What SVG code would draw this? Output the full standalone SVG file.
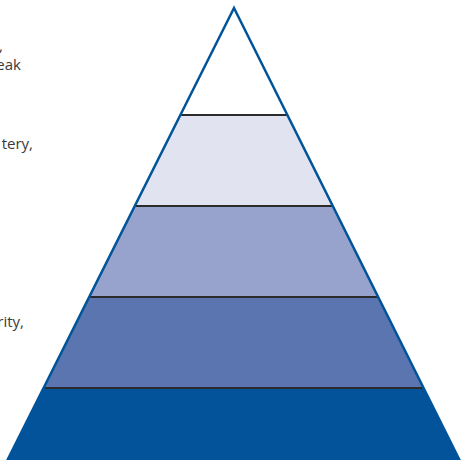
<svg xmlns="http://www.w3.org/2000/svg" width="461" height="460" viewBox="0 0 461 460">
  <style>
    .lbl { font-family: "Open Sans", "Noto Sans", sans-serif; font-size: 15px; fill: #3a3a3a; text-anchor: end; }
    .div { stroke: #2b2b2b; stroke-width: 2; }
    .outline { fill: none; stroke: #00549a; stroke-width: 2.5; stroke-linejoin: miter; }
  </style>
  <g id="labels">
    <text class="lbl" x="3" y="51">,</text>
    <text class="lbl" x="21" y="70">eak</text>
    <text class="lbl" x="33" y="149">tery,</text>
    <text class="lbl" x="24" y="327">rity,</text>
  </g>
  <g id="layer1"><polygon points="234,8 180.5,115 287.5,115" fill="#ffffff"/></g>
  <g id="layer2"><polygon points="180.5,115 287.5,115 333,206 135,206" fill="#e1e3f0"/></g>
  <g id="layer3"><polygon points="135,206 333,206 378.5,297 89.5,297" fill="#97a3cc"/></g>
  <g id="layer4"><polygon points="89.5,297 378.5,297 424,388 44,388" fill="#5a75b0"/></g>
  <g id="layer5"><polygon points="44,388 424,388 460,460 7,460" fill="#02539a"/></g>
  <g id="dividers">
    <line class="div" x1="181" y1="115" x2="287" y2="115"/>
    <line class="div" x1="136" y1="206" x2="332" y2="206"/>
    <line class="div" x1="90" y1="297" x2="378" y2="297"/>
    <line class="div" x1="45" y1="388" x2="423" y2="388"/>
  </g>
  <g id="outline">
    <polyline class="outline" points="7,461 234,8 460,461"/>
  </g>
</svg>
